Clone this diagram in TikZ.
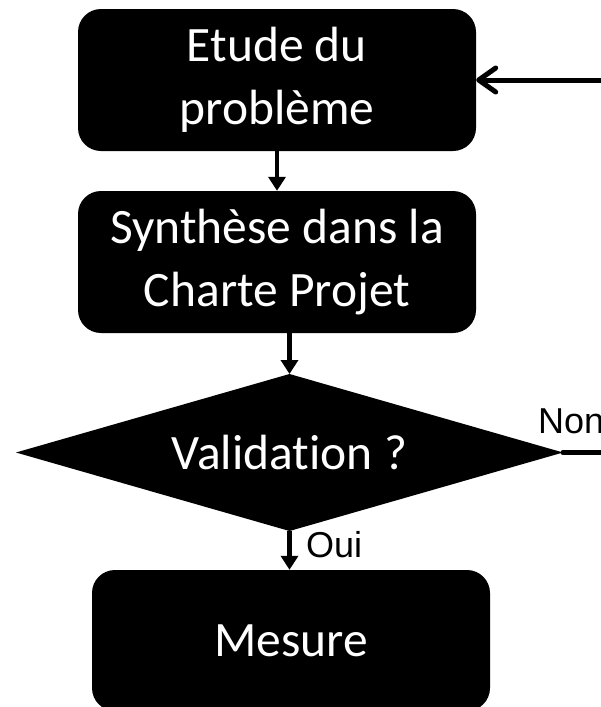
\documentclass[tikz,border=0pt]{standalone}
\usepackage{fontspec}
\setmainfont{Carlito}[Ligatures={NoCommon}]
\newfontfamily\lblfont{Liberation Sans}
\usetikzlibrary{shapes.geometric,arrows.meta}
\tikzset{
  blk/.style={fill=black, draw=none, rounded corners=23pt, text=white, align=center,
    font=\fontsize{49.5}{63}\selectfont, inner sep=0pt},
  txt/.style={text=white, inner sep=0pt, font=\fontsize{49.5}{63}\selectfont},
  arr/.style={line width=4.5pt, -{Triangle[length=14pt,width=17pt]}},
  fb/.style={line width=5pt, line cap=round, line join=miter, -{Straight Barb[length=17pt,width=24pt,line width=5pt,round]}},
  lbl/.style={font=\lblfont\fontsize{36}{42}\selectfont, inner sep=0pt, anchor=west}
}
\begin{document}
\begin{tikzpicture}[x=1pt,y=-1pt]
\useasboundingbox (0,0) rectangle (600,707);
\node[blk, minimum width=398pt, minimum height=142pt] (etude) at (277,80) {Etude du\\problème};
\node[blk, minimum width=398pt, minimum height=142pt] (synth) at (277,262) {Synthèse dans la\\Charte Projet};
\coordinate (vN) at (289.5,374);
\coordinate (vS) at (289.5,531);
\coordinate (vW) at (16,452.5);
\coordinate (vE) at (563,452.5);
\fill[black] (vN) -- (vE) -- (vS) -- (vW) -- cycle;
\node[txt] (valid) at (289.5,452.5) {Validation ?};
\node[blk, minimum width=398pt, minimum height=141pt] (mesure) at (291,640.5) {Mesure};
\coordinate (c1) at (605,452.5);
\coordinate (c2) at (605,80);
\draw[arr] (etude.south) -- (synth.north);
\draw[arr] (vN |- synth.south) -- (vN);
\draw[arr] (vS) -- (vS |- mesure.north);
\draw[fb] (vE) -- (c1) -- (c2) -- (etude.east);
\node[lbl] (oui) at (306,545) {Oui};
\node[lbl] (non) at (538,421) {Non};
\end{tikzpicture}
\end{document}
